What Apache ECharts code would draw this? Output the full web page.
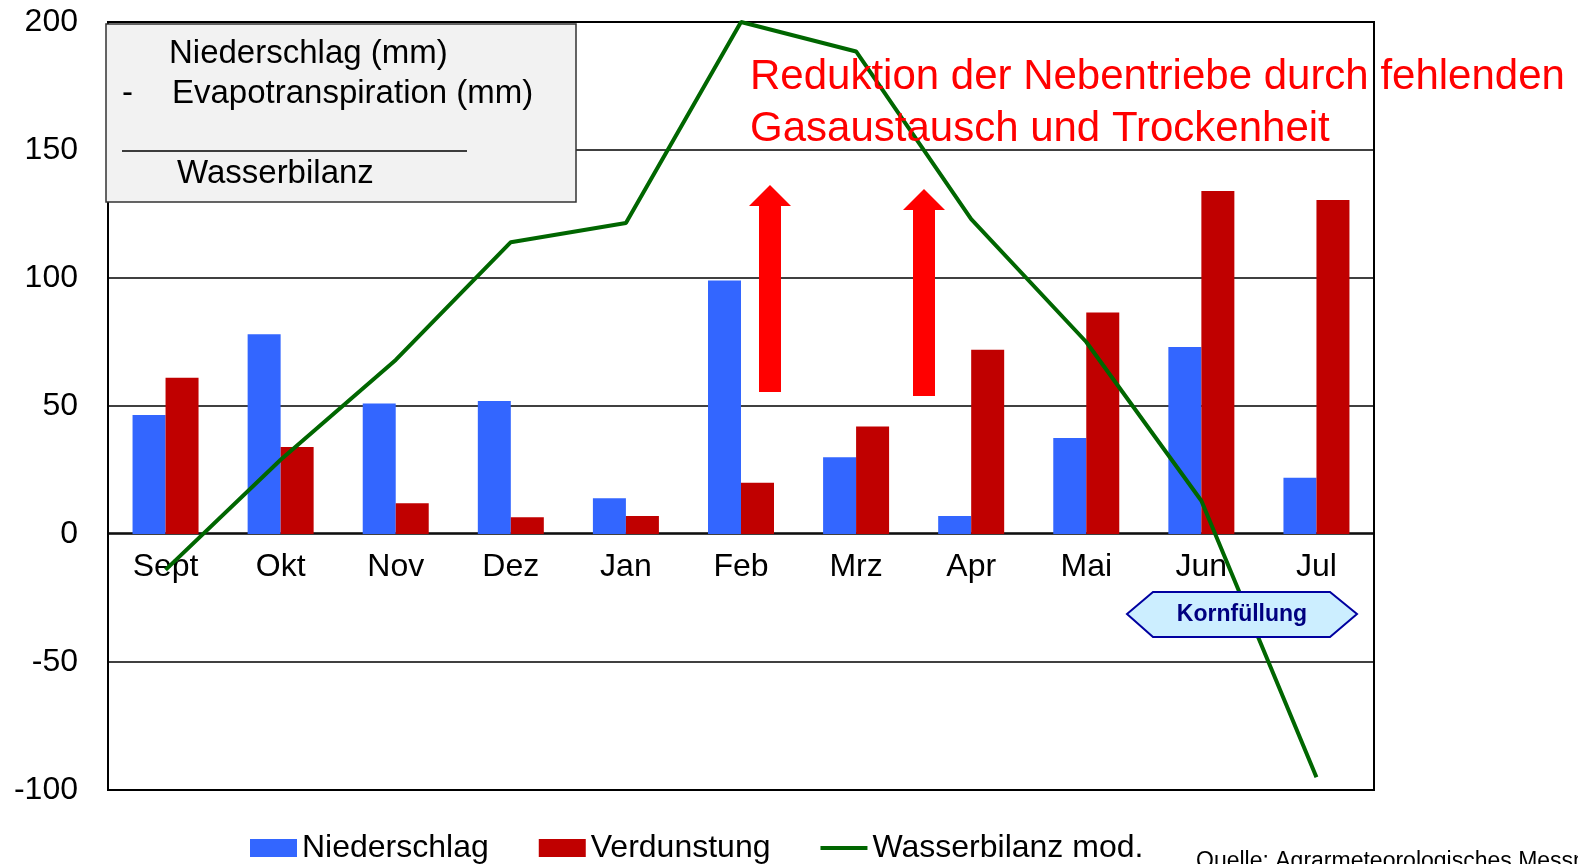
<!DOCTYPE html>
<html>
<head>
<meta charset="utf-8">
<script src="https://cdn.jsdelivr.net/npm/echarts@6/dist/echarts.min.js"></script>
<style>
  html, body { margin: 0; padding: 0; background: #fff; }
  #chart { width: 1578px; height: 864px; }
</style>
</head>
<body>
<div id="chart"></div>
<script>
// Monate
const months = ['Sept', 'Okt', 'Nov', 'Dez', 'Jan', 'Feb', 'Mrz', 'Apr', 'Mai', 'Jun', 'Jul']
// Niederschlag (mm)
const niederschlag = [46.5, 78, 51, 52, 14, 99, 30, 7, 37.5, 73, 22]
// Verdunstung (mm)
const verdunstung = [61, 34, 12, 6.5, 7, 20, 42, 72, 86.5, 134, 130.5]
// Wasserbilanz mod.
const wasserbilanz = [-14, 29, 68, 114, 121.5, 200, 188.5, 123, 75, 13, -95]

const font = 'Liberation Sans, Arial, sans-serif'

var myChart = echarts.init(document.getElementById('chart'))

var option = {
    animation: false,
    textStyle: { fontFamily: font },
    grid: {
        left: 108,
        right: 204,
        top: 22,
        bottom: 74,
        show: true,
        borderColor: '#000',
        borderWidth: 2
    },
    legend: {
        left: 245,
        top: 827,
        itemWidth: 47,
        itemHeight: 18,
        itemGap: 50,
        symbolKeepAspect: true,
        textStyle: { fontSize: 32, color: '#000', fontFamily: font },
        data: [
            { name: 'Niederschlag', icon: 'rect' },
            { name: 'Verdunstung', icon: 'rect' },
            { name: 'Wasserbilanz mod.', icon: 'path://M0,0L47,0L47,4L0,4Z' }
        ]
    },
    xAxis: {
        type: 'category',
        data: months,
        // Achse auf die Nulllinie schieben
        offset: -257,
        axisLine: { onZero: false, lineStyle: { color: '#000', width: 1.5 } },
        axisTick: { show: false },
        axisLabel: { fontSize: 32, color: '#000', margin: 18 }
    },
    yAxis: {
        type: 'value',
        min: -100,
        max: 200,
        interval: 50,
        axisLine: { show: true, lineStyle: { color: '#000', width: 1.5 } },
        axisTick: { show: false },
        axisLabel: { fontSize: 32, color: '#000', margin: 30 },
        splitLine: { lineStyle: { color: '#000', width: 1.5 } }
    },
    series: [
        {
            name: 'Niederschlag',
            type: 'bar',
            data: niederschlag,
            barWidth: 33,
            barGap: '0%',
            itemStyle: { color: '#3366ff' }
        },
        {
            name: 'Verdunstung',
            type: 'bar',
            data: verdunstung,
            barWidth: 33,
            itemStyle: { color: '#c00000' }
        },
        {
            name: 'Wasserbilanz mod.',
            type: 'line',
            data: wasserbilanz,
            symbol: 'none',
            z: 3,
            lineStyle: { color: '#006600', width: 4 },
            itemStyle: { color: '#006600' }
        }
    ],
    graphic: [
        // Textkasten oben links
        {
            type: 'rect',
            shape: { x: 106, y: 24, width: 470, height: 178 },
            style: { fill: '#f2f2f2', stroke: '#333', lineWidth: 1.5 },
            z: 10
        },
        { type: 'text', left: 169, top: 37, z: 11, style: { text: 'Niederschlag (mm)', fontSize: 33, fontFamily: font, fill: '#000' } },
        { type: 'text', left: 122, top: 77, z: 11, style: { text: '-', fontSize: 33, fontFamily: font, fill: '#000' } },
        { type: 'text', left: 172, top: 77, z: 11, style: { text: 'Evapotranspiration (mm)', fontSize: 33, fontFamily: font, fill: '#000' } },
        { type: 'line', shape: { x1: 122, y1: 151, x2: 467, y2: 151 }, style: { stroke: '#000', lineWidth: 1.5 }, z: 11 },
        { type: 'text', left: 177, top: 157, z: 11, style: { text: 'Wasserbilanz', fontSize: 33, fontFamily: font, fill: '#000' } },
        // rote Beschriftung
        { type: 'text', left: 750, top: 56, z: 11, style: { text: 'Reduktion der Nebentriebe durch fehlenden', fontSize: 42, fontFamily: font, fill: '#ff0000' } },
        { type: 'text', left: 750, top: 108, z: 11, style: { text: 'Gasaustausch und Trockenheit', fontSize: 42, fontFamily: font, fill: '#ff0000' } },
        // rote Pfeile
        {
            type: 'polygon',
            shape: { points: [[770, 185], [791, 206], [781, 206], [781, 392], [759, 392], [759, 206], [749, 206]] },
            style: { fill: '#ff0000' },
            z: 11
        },
        {
            type: 'polygon',
            shape: { points: [[924, 189], [945, 210], [935, 210], [935, 396], [913, 396], [913, 210], [903, 210]] },
            style: { fill: '#ff0000' },
            z: 11
        },
        // Kornfüllung
        {
            type: 'polygon',
            shape: { points: [[1127, 614], [1153, 592], [1330, 592], [1357, 614], [1330, 637], [1153, 637]] },
            style: { fill: '#cceeff', stroke: '#0000a0', lineWidth: 2 },
            z: 11
        },
        {
            type: 'text', x: 1242, y: 615, z: 12,
            style: { text: 'Kornfüllung', fontSize: 23, fontWeight: 'bold', fontFamily: font, fill: '#000080', align: 'center', verticalAlign: 'middle' }
        },
        // Quelle
        { type: 'text', left: 1196, top: 850, z: 11, style: { text: 'Quelle: Agrarmeteorologisches Messnetz', fontSize: 23, fontFamily: font, fill: '#000' } }
    ]
}

myChart.setOption(option)
</script>
</body>
</html>
